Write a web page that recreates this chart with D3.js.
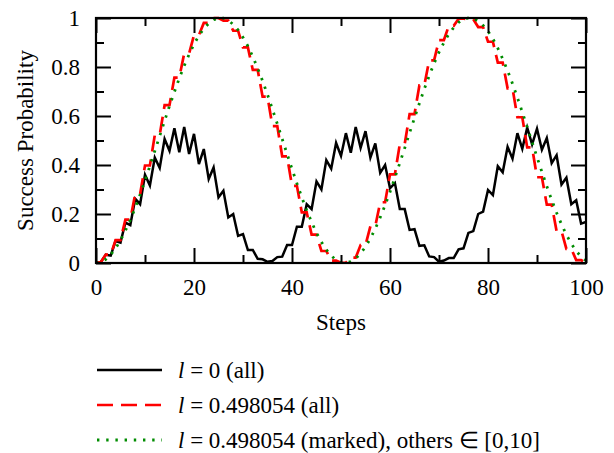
<!DOCTYPE html>
<html><head><meta charset="utf-8">
<script src="https://cdn.jsdelivr.net/npm/d3@7"></script>
<style>
html,body{margin:0;padding:0;background:#fff;}
text{font-family:"Liberation Serif","Times New Roman",serif;}
</style></head>
<body><svg id="c" width="614" height="453"></svg>
<script>
// ---- data ----
const steps = d3.range(0, 101);
const xTicks = [0, 20, 40, 60, 80, 100];
const xMinor = [10, 30, 50, 70, 90];
const yTicks = [0, 0.2, 0.4, 0.6, 0.8, 1];
const yMinor = [0.1, 0.3, 0.5, 0.7, 0.9];
const yTickLabels = ["0", "0.2", "0.4", "0.6", "0.8", "1"];

// l = 0 (all)
const blackVals = [0,0.004,0.034,0.03,0.09,0.083,0.165,0.155,0.262,0.24,
0.36,0.316,0.43,0.388,0.506,0.458,0.55,0.452,0.555,0.445,
0.527,0.404,0.465,0.343,0.39,0.268,0.295,0.186,0.2,0.111,
0.118,0.053,0.053,0.017,0.015,0.005,0.008,0.024,0.026,0.073,
0.073,0.148,0.148,0.24,0.22,0.333,0.3,0.42,0.385,0.49,
0.437,0.53,0.45,0.555,0.47,0.538,0.43,0.488,0.368,0.40,
0.305,0.326,0.22,0.22,0.135,0.138,0.07,0.072,0.027,0.024,
0.005,0.01,0.02,0.02,0.056,0.06,0.123,0.13,0.2,0.21,
0.298,0.277,0.395,0.37,0.474,0.426,0.53,0.466,0.552,0.484,
0.548,0.462,0.51,0.408,0.44,0.32,0.348,0.24,0.256,0.161,0.168];

// l = 0.498054 (all)
const redVals = [0,0.004,0.034,0.034,0.093,0.093,0.177,0.177,0.281,0.281,
0.398,0.398,0.522,0.522,0.644,0.644,0.757,0.757,0.855,0.855,
0.93,0.93,0.98,0.98,1.0,1.0,0.989,0.989,0.948,0.948,
0.88,0.88,0.788,0.788,0.679,0.679,0.559,0.559,0.435,0.435,
0.315,0.315,0.207,0.207,0.116,0.116,0.049,0.049,0.01,0.01,
0.001,0.001,0.022,0.022,0.073,0.073,0.15,0.15,0.248,0.248,
0.362,0.362,0.485,0.485,0.608,0.608,0.725,0.725,0.827,0.827,
0.91,0.91,0.968,0.968,0.997,0.997,0.995,0.995,0.963,0.963,
0.903,0.903,0.818,0.818,0.713,0.713,0.595,0.595,0.472,0.472,
0.35,0.35,0.238,0.238,0.13,0.13,0.058,0.058,0.012,0.012,0];

// l = 0.498054 (marked), others in [0,10]
const greenVals = [0,0.004,0.015,0.034,0.06,0.093,0.132,0.176,0.225,0.279,
0.336,0.396,0.457,0.518,0.58,0.641,0.698,0.754,0.805,0.851,
0.893,0.928,0.957,0.978,0.993,0.999,0.999,0.99,0.974,0.951,
0.921,0.885,0.842,0.795,0.743,0.687,0.628,0.568,0.506,0.445,
0.384,0.325,0.268,0.215,0.167,0.123,0.086,0.054,0.03,0.012,
0.002,0.0,0.006,0.018,0.039,0.066,0.1,0.14,0.186,0.236,
0.29,0.348,0.408,0.469,0.531,0.592,0.652,0.71,0.764,0.815,
0.86,0.9,0.934,0.961,0.982,0.995,1.0,0.998,0.988,0.97,
0.946,0.915,0.877,0.833,0.785,0.732,0.675,0.616,0.555,0.494,
0.432,0.372,0.313,0.257,0.205,0.158,0.115,0.079,0.049,0.026,0.01];

const legendLabels = [
  ["l", " = 0 (all)"],
  ["l", " = 0.498054 (all)"],
  ["l", " = 0.498054 (marked), others \u2208 [0,10]"]
];

// ---- drawing ----
const svg = d3.select("#c");
const L = 96, R = 586, T = 18, B = 263;
const x = d3.scaleLinear().domain([0, 100]).range([L, R]);
const y = d3.scaleLinear().domain([0, 1]).range([B, T]);
const FS = 23;

const line = vals => d3.line().x((d, i) => x(steps[i])).y(d => y(d))(vals);

const series = [
  {vals: blackVals, color: "#000000", width: 2.5, dash: null},
  {vals: redVals, color: "#ff0000", width: 2.7, dash: "16,8"},
  {vals: greenVals, color: "#008c00", width: 2.8, dash: "2.4,6.8"}
];

svg.append("clipPath").attr("id", "pc").append("rect")
  .attr("x", L).attr("y", T - 2).attr("width", R - L).attr("height", B - T + 2);

const gp = svg.append("g").attr("clip-path", "url(#pc)");
series.forEach(s => {
  gp.append("path").attr("d", line(s.vals)).attr("fill", "none")
    .attr("stroke", s.color).attr("stroke-width", s.width)
    .attr("stroke-dasharray", s.dash).attr("stroke-linejoin", "miter");
});

function styleAxis(g) {
  g.select(".domain").remove();
  g.selectAll(".tick line").attr("stroke", "#000").attr("stroke-width", 2);
  g.selectAll(".tick text").attr("font-size", FS).attr("fill", "#000")
    .attr("font-family", '"Liberation Serif","Times New Roman",serif');
}
const MAJ = 15, MIN = 8;
// bottom
svg.append("g").attr("transform", `translate(0,${B})`)
  .call(d3.axisBottom(x).tickValues(xTicks).tickSize(-MAJ).tickPadding(16).tickFormat(d => String(d)))
  .call(styleAxis)
  .call(g => g.selectAll(".tick text").attr("y", 16).attr("dy", "0.71em"));
svg.append("g").attr("transform", `translate(0,${B})`)
  .call(d3.axisBottom(x).tickValues(xMinor).tickSize(-MIN).tickFormat(""))
  .call(styleAxis);
// top
svg.append("g").attr("transform", `translate(0,${T})`)
  .call(d3.axisTop(x).tickValues(xTicks).tickSize(-MAJ).tickFormat(""))
  .call(styleAxis);
svg.append("g").attr("transform", `translate(0,${T})`)
  .call(d3.axisTop(x).tickValues(xMinor).tickSize(-MIN).tickFormat(""))
  .call(styleAxis);
// left
svg.append("g").attr("transform", `translate(${L},0)`)
  .call(d3.axisLeft(y).tickValues(yTicks).tickSize(-MAJ).tickPadding(16)
    .tickFormat((d, i) => yTickLabels[i]))
  .call(styleAxis);
svg.append("g").attr("transform", `translate(${L},0)`)
  .call(d3.axisLeft(y).tickValues(yMinor).tickSize(-MIN).tickFormat(""))
  .call(styleAxis);
// right
svg.append("g").attr("transform", `translate(${R},0)`)
  .call(d3.axisRight(y).tickValues(yTicks).tickSize(-MAJ).tickFormat(""))
  .call(styleAxis);
svg.append("g").attr("transform", `translate(${R},0)`)
  .call(d3.axisRight(y).tickValues(yMinor).tickSize(-MIN).tickFormat(""))
  .call(styleAxis);

// frame
svg.append("rect").attr("x", L).attr("y", T).attr("width", R - L).attr("height", B - T)
  .attr("fill", "none").attr("stroke", "#000").attr("stroke-width", 2.2);

// axis titles
svg.append("text").attr("x", (L + R) / 2).attr("y", 330).attr("text-anchor", "middle")
  .attr("font-size", FS).text("Steps");
svg.append("text").attr("transform", `translate(33,${(T + B) / 2}) rotate(-90)`)
  .attr("text-anchor", "middle").attr("font-size", FS).text("Success Probability");

// legend
const legY = [370, 405, 440];
series.forEach((s, i) => {
  svg.append("line").attr("x1", 97).attr("x2", 162).attr("y1", legY[i]).attr("y2", legY[i])
    .attr("stroke", s.color).attr("stroke-width", s.width).attr("stroke-dasharray", s.dash);
  const t = svg.append("text").attr("x", 178).attr("y", legY[i]).attr("dy", "0.34em")
    .attr("font-size", FS);
  t.append("tspan").attr("font-style", "italic").text(legendLabels[i][0]);
  t.append("tspan").text(legendLabels[i][1]);
});
</script></body></html>
